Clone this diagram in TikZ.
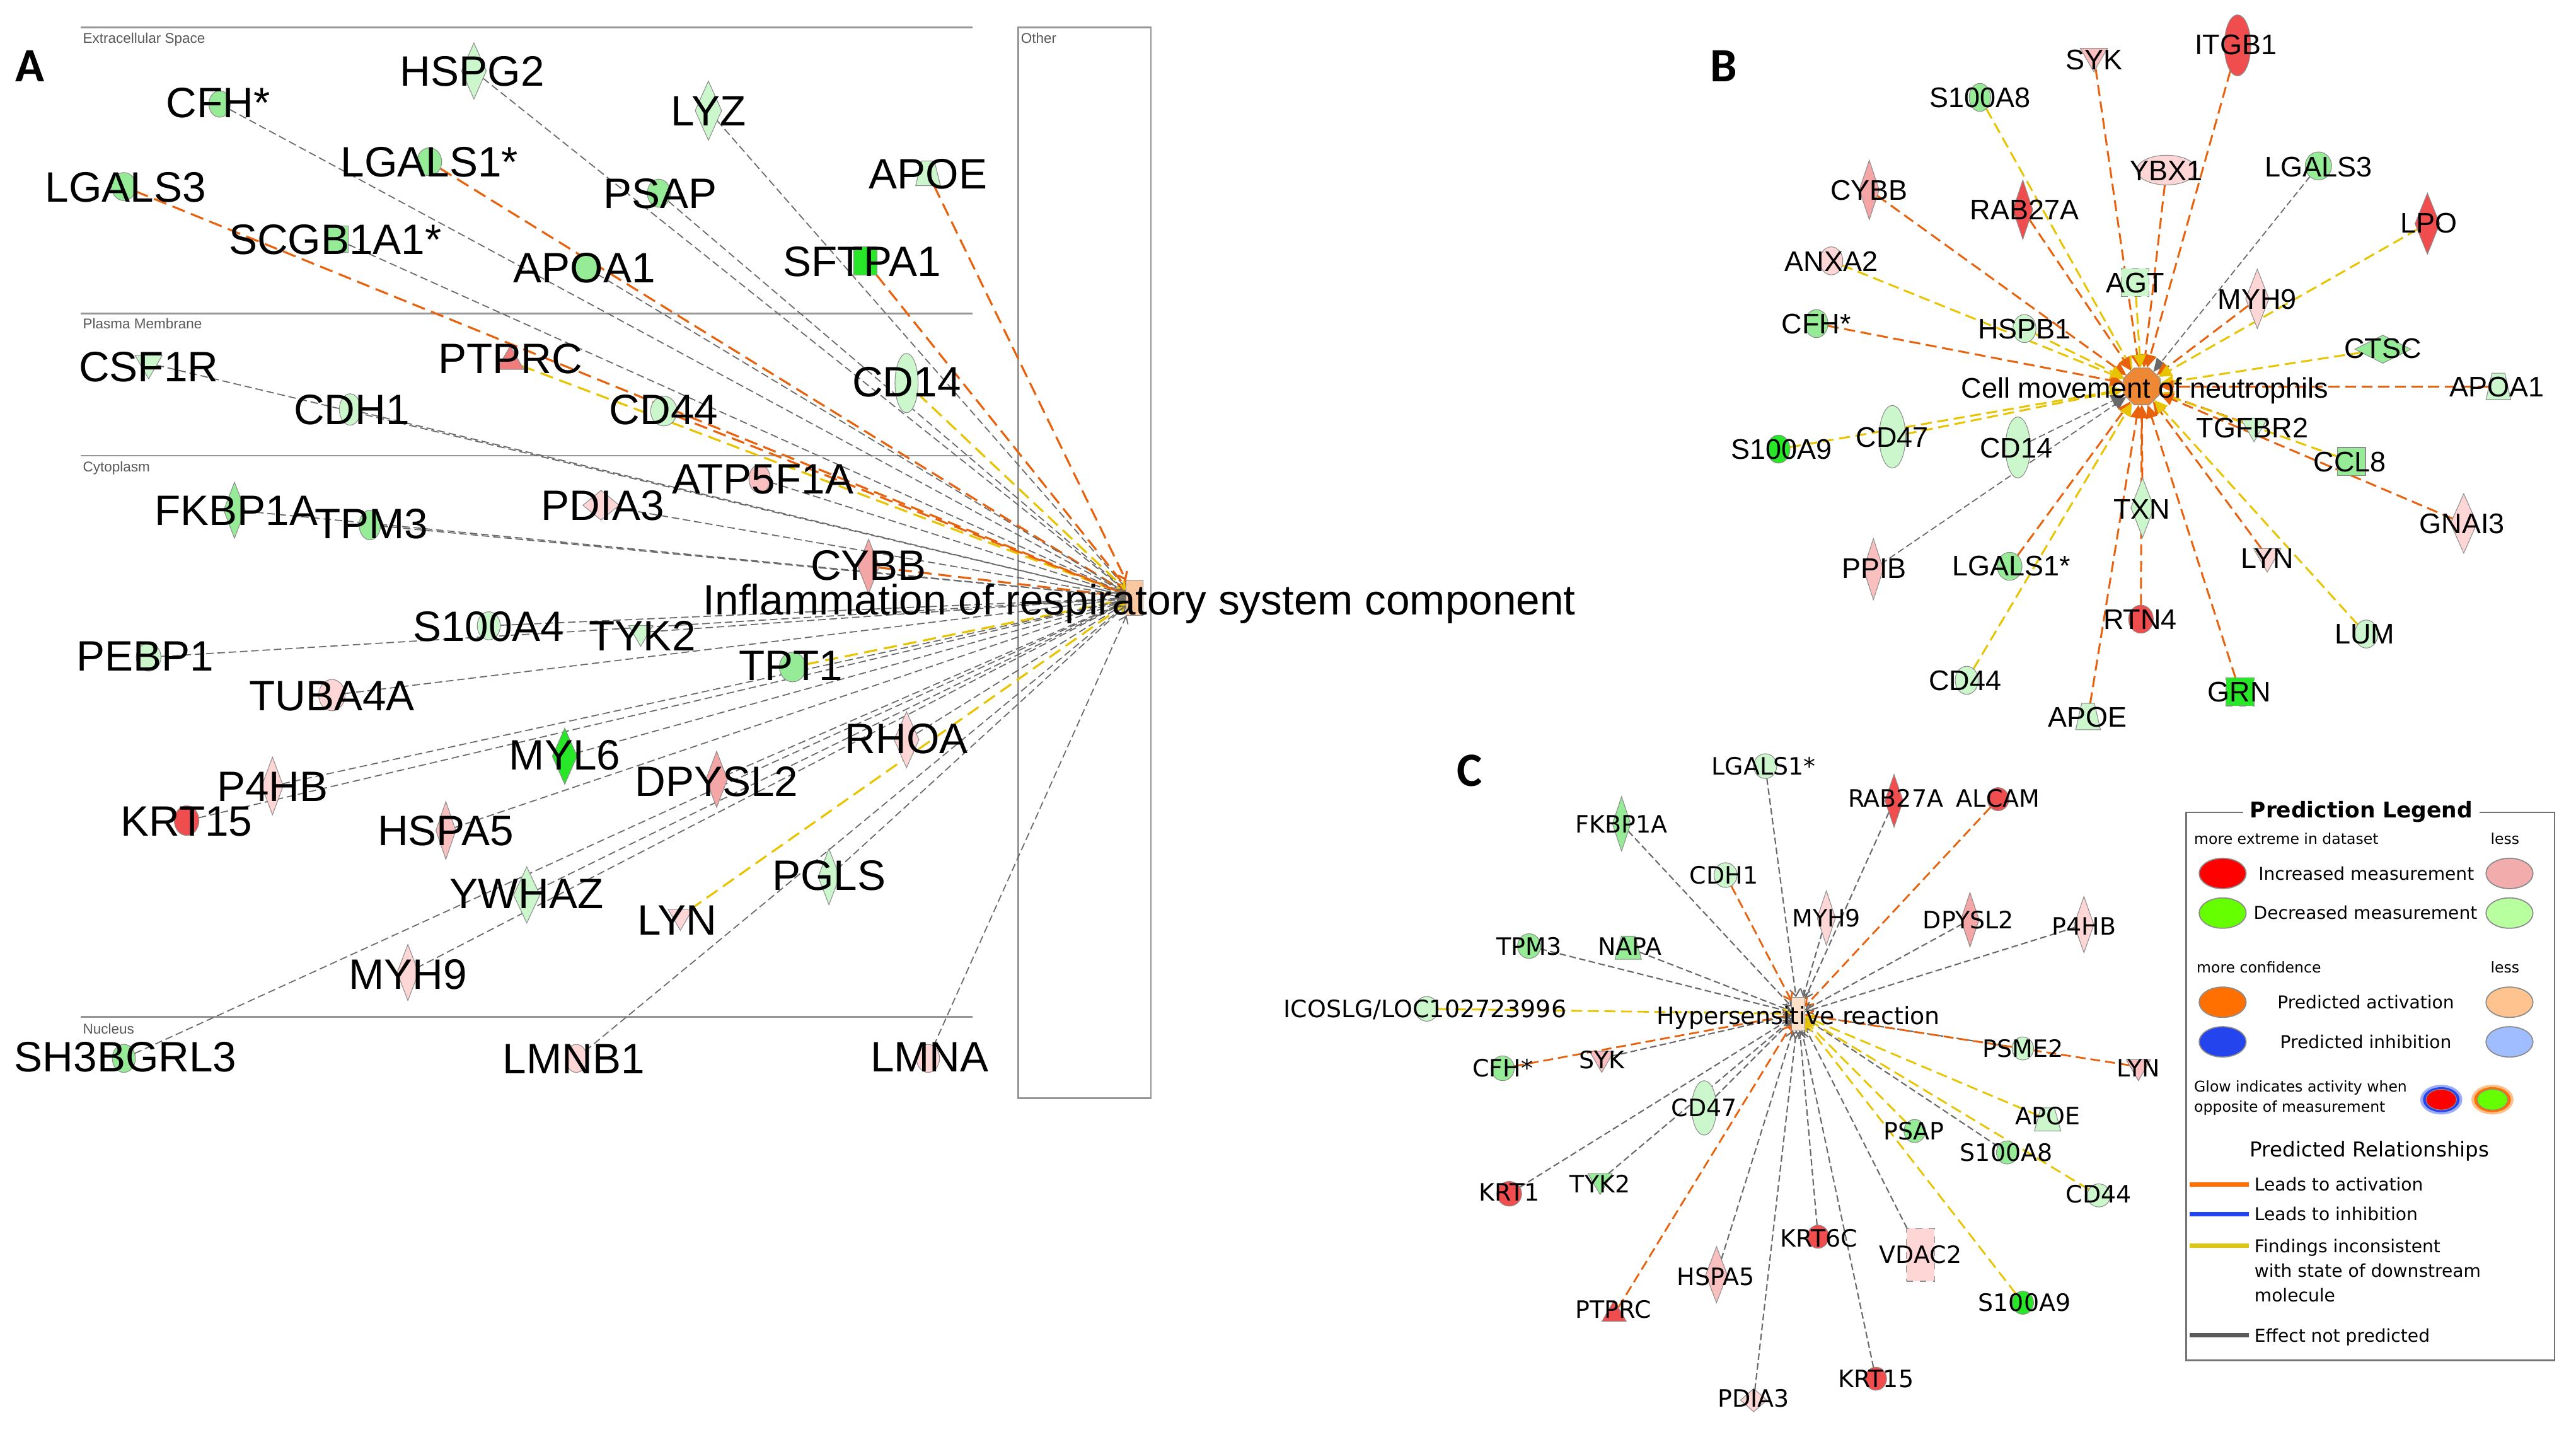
\documentclass[tikz,border=0pt]{standalone}
\usepackage{fontspec}
\setmainfont{Liberation Sans}
\newfontfamily\verd{DejaVu Sans}
\newfontfamily\calib{Carlito}
\usetikzlibrary{shapes.geometric, arrows.meta}
\pgfdeclarelayer{back}
\pgfdeclarelayer{edges}
\pgfsetlayers{back,edges,main}

\definecolor{lgreen}{RGB}{204,246,204}
\definecolor{mgreen}{RGB}{150,236,150}
\definecolor{bgreen}{RGB}{40,230,40}
\definecolor{lpink}{RGB}{255,214,214}
\definecolor{lpinkb}{RGB}{250,192,192}
\definecolor{mpink}{RGB}{244,165,165}
\definecolor{mred}{RGB}{240,125,125}
\definecolor{gred}{RGB}{240,78,78}
\definecolor{hubpeach}{RGB}{250,200,160}
\definecolor{hubora}{RGB}{238,136,52}
\definecolor{hubpale}{RGB}{252,224,200}
\definecolor{eora}{RGB}{232,98,14}
\definecolor{eyel}{RGB}{232,196,0}
\definecolor{egry}{RGB}{105,105,105}
\definecolor{outl}{RGB}{140,140,140}
\definecolor{cline}{RGB}{150,150,150}
\definecolor{lgred}{RGB}{255,0,0}
\definecolor{lgpink}{RGB}{242,172,172}
\definecolor{lggreen}{RGB}{102,255,0}
\definecolor{lglgreen}{RGB}{184,255,160}
\definecolor{lgora}{RGB}{255,112,0}
\definecolor{lgpeach}{RGB}{255,195,143}
\definecolor{lgblue}{RGB}{36,68,238}
\definecolor{lglblue}{RGB}{160,190,255}
\definecolor{lgyel}{RGB}{220,200,20}
\definecolor{lggray}{RGB}{90,90,90}

\begin{document}
\begin{tikzpicture}[x=0.0262cm, y=-0.0262cm,
    gene/.style = {draw=outl, line width=0.3pt, inner sep=0pt, outer sep=0pt},
    circ/.style 2 args = {gene, ellipse, minimum width=#1*0.745pt, minimum height=#2*0.745pt},
    dia/.style 2 args = {gene, diamond, minimum width=#1*0.745pt, minimum height=#2*0.745pt},
    box/.style 2 args = {gene, rectangle, minimum width=#1*0.745pt, minimum height=#2*0.745pt},
    trap/.style 2 args = {gene, trapezium, inner sep=1pt, trapezium stretches=true, trapezium left angle=65, trapezium right angle=65, minimum width=#1*0.745pt, minimum height=#2*0.745pt},
    tri/.style = {gene, regular polygon, regular polygon sides=3, minimum size=#1*0.745pt},
    vtri/.style = {tri=#1, shape border rotate=180},
    labA/.style = {font=\fontsize{19.2}{20}\selectfont, inner sep=0pt, text height=13.7pt, text depth=0pt},
    labB/.style = {font=\fontsize{12.8}{14}\selectfont, inner sep=0pt, text height=9.2pt, text depth=0pt},
    labC/.style = {font=\verd\fontsize{10.8}{12}\selectfont, inner sep=0pt, text height=7.9pt, text depth=0pt},
    letter/.style = {font=\calib\bfseries\fontsize{21.6}{22}\selectfont, inner sep=0pt, text height=13.9pt, text depth=0pt},
    comp/.style = {font=\fontsize{6.4}{7}\selectfont, text=black!65, inner sep=0pt, anchor=west, text height=4.6pt, text depth=0pt},
    cline/.style = {draw=cline, line width=0.8pt},
    arr/.style = {-{Straight Barb[length=3pt, width=4.5pt]}},
    ora/.style = {draw=eora, line width=0.9pt, dash pattern=on 6pt off 3pt, arr},
    yel/.style = {draw=eyel, line width=0.9pt, dash pattern=on 6pt off 3pt, arr},
    gry/.style = {draw=egry, line width=0.5pt, dash pattern=on 3.4pt off 1.7pt, arr},
    legs/.style = {font=\verd\fontsize{6.7}{9}\selectfont, inner sep=0pt, text height=4.9pt, text depth=0pt},
    legm/.style = {font=\verd\fontsize{8}{11}\selectfont, inner sep=0pt, text height=5.8pt, text depth=0pt},
    legell/.style = {ellipse, draw=outl, line width=0.5pt, minimum width=21.2pt, minimum height=13.7pt, inner sep=0pt}
  ]
  \useasboundingbox (0,0) rectangle (1560,865.7);
  \begin{pgfonlayer}{back}
    \fill[white] (0,0) rectangle (1560,865.7);
    % compartments of panel A
    \draw[cline] (49,16.5) -- (589,16.5);
    \draw[cline] (49,190) -- (589,190);
    \draw[cline] (49,276) -- (589,276);
    \draw[cline] (49,616) -- (589,616);
    \draw[cline] (616.5,16.5) rectangle (697,665);
  \end{pgfonlayer}
  \node[comp] (comp_ext) at (50,23) {Extracellular Space};
  \node[comp] (comp_pm) at (50,196) {Plasma Membrane};
  \node[comp] (comp_cyt) at (50,282.5) {Cytoplasm};
  \node[comp] (comp_nuc) at (50,623) {Nucleus};
  \node[comp] (comp_oth) at (618,23) {Other};

  \node[letter] (let_a) at (18,40) {A};
  \node[letter] (let_b) at (1044,40) {B};
  \node[letter] (let_c) at (890,467) {C};

  % panel A
  \node[gene, rectangle, minimum width=7.5pt, minimum height=16pt, fill=hubpeach] (a_hub) at (687,362) {};
  \node[dia={15}{34}, fill=lgreen] (a_hspg2) at (287,43) {};
  \node[circ={13}{16}, fill=mgreen] (a_cfh) at (133,63) {};
  \node[circ={15}{17}, fill=mgreen] (a_lgals1) at (260,98) {};
  \node[circ={15}{17}, fill=mgreen] (a_lgals3) at (75,113) {};
  \node[box={14}{16}, fill=mgreen] (a_scgb) at (204,145) {};
  \node[circ={15}{17}, fill=mgreen] (a_apoa1) at (355,162) {};
  \node[dia={16}{36}, fill=lgreen] (a_lyz) at (429,67) {};
  \node[circ={14}{17}, fill=mgreen] (a_psap) at (399,117) {};
  \node[trap={15}{15}, fill=lgreen] (a_apoe) at (562,105) {};
  \node[box={14}{17}, fill=bgreen] (a_sftpa1) at (524,158) {};
  \node[tri=19, fill=mred] (a_ptprc) at (309,219) {};
  \node[vtri=19, fill=lgreen] (a_csf1r) at (90,220) {};
  \node[circ={13}{19}, fill=lgreen] (a_cdh1) at (212,248) {};
  \node[circ={14}{36}, fill=lgreen] (a_cd14) at (549,232) {};
  \node[circ={16}{18}, fill=lgreen] (a_cd44) at (402,249) {};
  \node[circ={13}{17}, fill=lpinkb] (a_atp) at (460,290) {};
  \node[dia={22}{18}, fill=lpink] (a_pdia3) at (364,306) {};
  \node[dia={13}{33}, fill=mpink] (a_cybb) at (526,343) {};
  \node[dia={13}{34}, fill=mgreen] (a_fkbp) at (142,309) {};
  \node[circ={13}{18}, fill=mgreen] (a_tpm3) at (224,318) {};
  \node[circ={14}{17}, fill=lgreen] (a_s100a4) at (296,379) {};
  \node[circ={15}{17}, fill=lgreen] (a_pebp1) at (90,398) {};
  \node[circ={16}{19}, fill=lpink] (a_tuba) at (201,421) {};
  \node[vtri=17, fill=lgreen] (a_tyk2) at (388,383) {};
  \node[circ={16}{18}, fill=mgreen] (a_tpt1) at (480,404) {};
  \node[dia={15}{34}, fill=lpink] (a_rhoa) at (549,448) {};
  \node[dia={15}{34}, fill=bgreen] (a_myl6) at (342,458) {};
  \node[dia={13}{34}, fill=mpink] (a_dpysl2) at (434,472) {};
  \node[dia={13}{35}, fill=lpink] (a_p4hb) at (165,476) {};
  \node[circ={15}{18}, fill=gred] (a_krt15) at (113,497) {};
  \node[dia={12}{35}, fill=lpinkb] (a_hspa5) at (270,503) {};
  \node[dia={16}{34}, fill=lgreen] (a_ywhaz) at (319,542) {};
  \node[dia={13}{34}, fill=lpink] (a_myh9) at (247,589) {};
  \node[circ={14}{17}, fill=mgreen] (a_sh3) at (75,641) {};
  \node[circ={13}{17}, fill=lpink] (a_lmnb1) at (349,641) {};
  \node[vtri=17, fill=lpink] (a_lyn) at (412,555) {};
  \node[dia={13}{34}, fill=lgreen] (a_pgls) at (502,531) {};
  \node[circ={14}{17}, fill=lpink] (a_lmna) at (562,641) {};

  \node[labA] (a_hub_t) at (690,363) {Inflammation of respiratory system component};
  \node[labA] (a_hspg2_t) at (286,43) {HSPG2};
  \node[labA] (a_cfh_t) at (132,62) {CFH*};
  \node[labA] (a_lgals1_t) at (260,98) {LGALS1*};
  \node[labA] (a_lgals3_t) at (76,113) {LGALS3};
  \node[labA] (a_scgb_t) at (203,145) {SCGB1A1*};
  \node[labA] (a_apoa1_t) at (354,162) {APOA1};
  \node[labA] (a_lyz_t) at (429,67) {LYZ};
  \node[labA] (a_psap_t) at (400,117) {PSAP};
  \node[labA] (a_apoe_t) at (562,105) {APOE};
  \node[labA] (a_sftpa1_t) at (522,158) {SFTPA1};
  \node[labA] (a_ptprc_t) at (309,217) {PTPRC};
  \node[labA] (a_csf1r_t) at (90,222) {CSF1R};
  \node[labA] (a_cdh1_t) at (213,248) {CDH1};
  \node[labA] (a_cd14_t) at (549,231) {CD14};
  \node[labA] (a_cd44_t) at (402,248) {CD44};
  \node[labA] (a_atp_t) at (462,290) {ATP5F1A};
  \node[labA] (a_pdia3_t) at (365,306) {PDIA3};
  \node[labA] (a_cybb_t) at (526,342) {CYBB};
  \node[labA] (a_fkbp_t) at (143,309) {FKBP1A};
  \node[labA] (a_tpm3_t) at (225,317) {TPM3};
  \node[labA] (a_s100a4_t) at (296,379) {S100A4};
  \node[labA] (a_pebp1_t) at (88,397) {PEBP1};
  \node[labA] (a_tuba_t) at (201,421) {TUBA4A};
  \node[labA] (a_tyk2_t) at (389,385) {TYK2};
  \node[labA] (a_tpt1_t) at (479,403) {TPT1};
  \node[labA] (a_rhoa_t) at (549,447) {RHOA};
  \node[labA] (a_myl6_t) at (342,457) {MYL6};
  \node[labA] (a_dpysl2_t) at (434,473) {DPYSL2};
  \node[labA] (a_p4hb_t) at (165,476) {P4HB};
  \node[labA] (a_krt15_t) at (113,497) {KRT15};
  \node[labA] (a_hspa5_t) at (270,503) {HSPA5};
  \node[labA] (a_ywhaz_t) at (319,541) {YWHAZ};
  \node[labA] (a_myh9_t) at (247,590) {MYH9};
  \node[labA] (a_sh3_t) at (76,640) {SH3BGRL3};
  \node[labA] (a_lmnb1_t) at (347.5,641) {LMNB1};
  \node[labA] (a_lyn_t) at (410,557) {LYN};
  \node[labA] (a_pgls_t) at (502,530) {PGLS};
  \node[labA] (a_lmna_t) at (563,640) {LMNA};

  \begin{pgfonlayer}{edges}
    \draw[gry] (a_hspg2) -- (a_hub);
    \draw[gry] (a_cfh) -- (a_hub);
    \draw[ora] (a_lgals1) -- (a_hub);
    \draw[ora] (a_lgals3) -- (a_hub);
    \draw[gry] (a_scgb) -- (a_hub);
    \draw[gry] (a_apoa1) -- (a_hub);
    \draw[gry] (a_lyz) -- (a_hub);
    \draw[gry] (a_psap) -- (a_hub);
    \draw[ora] (a_apoe) -- (a_hub);
    \draw[ora] (a_sftpa1) -- (a_hub);
    \draw[yel] (a_ptprc) -- (a_hub);
    \draw[gry] (a_csf1r) -- (a_hub);
    \draw[gry] (a_cdh1) -- (a_hub);
    \draw[yel] (a_cd14) -- (a_hub);
    \draw[ora] (a_cd44) -- (a_hub);
    \draw[gry] (a_atp) -- (a_hub);
    \draw[gry] (a_pdia3) -- (a_hub);
    \draw[ora] (a_cybb) -- (a_hub);
    \draw[gry] (a_fkbp) -- (a_hub);
    \draw[gry] (a_tpm3) -- (a_hub);
    \draw[gry] (a_s100a4) -- (a_hub);
    \draw[gry] (a_pebp1) -- (a_hub);
    \draw[gry] (a_tuba) -- (a_hub);
    \draw[gry] (a_tyk2) -- (a_hub);
    \draw[yel] (a_tpt1) -- (a_hub);
    \draw[gry] (a_rhoa) -- (a_hub);
    \draw[gry] (a_myl6) -- (a_hub);
    \draw[gry] (a_dpysl2) -- (a_hub);
    \draw[gry] (a_p4hb) -- (a_hub);
    \draw[gry] (a_krt15) -- (a_hub);
    \draw[gry] (a_hspa5) -- (a_hub);
    \draw[gry] (a_ywhaz) -- (a_hub);
    \draw[gry] (a_myh9) -- (a_hub);
    \draw[gry] (a_sh3) -- (a_hub);
    \draw[gry] (a_lmnb1) -- (a_hub);
    \draw[yel] (a_lyn) -- (a_hub);
    \draw[gry] (a_pgls) -- (a_hub);
    \draw[gry] (a_lmna) -- (a_hub);
  \end{pgfonlayer}

  % panel B
  \node[gene, regular polygon, regular polygon sides=8, minimum size=18pt, fill=hubora] (b_hub) at (1297,234) {};
  \node[vtri=19, fill=lpinkb] (b_syk) at (1268,34) {};
  \node[circ={13}{17}, fill=mgreen] (b_s100a8) at (1199,59) {};
  \node[circ={16}{37}, fill=gred] (b_itgb1) at (1355,27.5) {};
  \node[dia={12}{36}, fill=mpink] (b_cybb) at (1132,115) {};
  \node[dia={12}{36}, fill=gred] (b_rab) at (1225,127) {};
  \node[circ={36}{18}, fill=lpink] (b_ybx1) at (1312,103) {};
  \node[circ={16}{17}, fill=mgreen] (b_lgals3) at (1404,100.5) {};
  \node[circ={14}{17}, fill=lpink] (b_anxa2) at (1109,158) {};
  \node[box={17}{17}, fill=lgreen, dashed] (b_agt) at (1293,171) {};
  \node[dia={14}{36}, fill=lpink] (b_myh9) at (1367,181) {};
  \node[dia={15}{37}, fill=gred] (b_lpo) at (1470,135.5) {};
  \node[circ={14}{17}, fill=mgreen] (b_cfh) at (1100,196) {};
  \node[circ={14}{17}, fill=lgreen] (b_hspb1) at (1226,199) {};
  \node[dia={34}{17}, fill=mgreen] (b_ctsc) at (1443,211.5) {};
  \node[trap={15}{16}, fill=lgreen] (b_apoa1) at (1513,234) {};
  \node[circ={14}{17}, fill=bgreen] (b_s100a9) at (1077,272) {};
  \node[circ={16}{38}, fill=lgreen] (b_cd47) at (1146,264.5) {};
  \node[circ={15}{37}, fill=lgreen] (b_cd14) at (1222,271) {};
  \node[vtri=19, fill=lgreen] (b_tgfbr2) at (1365,258) {};
  \node[box={17}{17}, fill=mgreen] (b_ccl8) at (1424,279.5) {};
  \node[dia={14}{36}, fill=lgreen] (b_txn) at (1297.5,307.5) {};
  \node[dia={16}{36}, fill=lpink] (b_gnai3) at (1492,317) {};
  \node[dia={12}{37}, fill=lpinkb] (b_ppib) at (1134.5,344.7) {};
  \node[circ={15}{17}, fill=mgreen] (b_lgals1) at (1217,343) {};
  \node[vtri=19, fill=lpink] (b_lyn) at (1373,337) {};
  \node[circ={15}{17}, fill=gred] (b_rtn4) at (1296.5,375) {};
  \node[circ={14}{17}, fill=lgreen] (b_lum) at (1433,384) {};
  \node[circ={14}{17}, fill=lgreen] (b_cd44) at (1191,412) {};
  \node[trap={15}{16}, fill=lgreen] (b_apoe) at (1264.5,434) {};
  \node[box={17}{17}, fill=bgreen, dashed] (b_grn) at (1356.5,419) {};

  \node[labB] (b_hub_t) at (1299,235) {Cell movement of neutrophils};
  \node[labB] (b_syk_t) at (1268,36) {SYK};
  \node[labB] (b_s100a8_t) at (1199,59) {S100A8};
  \node[labB] (b_itgb1_t) at (1354,27) {ITGB1};
  \node[labB] (b_cybb_t) at (1132,115) {CYBB};
  \node[labB] (b_rab_t) at (1226,127) {RAB27A};
  \node[labB] (b_ybx1_t) at (1312,103) {YBX1};
  \node[labB] (b_lgals3_t) at (1404,101) {LGALS3};
  \node[labB] (b_anxa2_t) at (1109,158) {ANXA2};
  \node[labB] (b_agt_t) at (1293,171) {AGT};
  \node[labB] (b_myh9_t) at (1367,181) {MYH9};
  \node[labB] (b_lpo_t) at (1471,135) {LPO};
  \node[labB] (b_cfh_t) at (1100,196) {CFH*};
  \node[labB] (b_hspb1_t) at (1226,199) {HSPB1};
  \node[labB] (b_ctsc_t) at (1443,211) {CTSC};
  \node[labB] (b_apoa1_t) at (1512,234) {APOA1};
  \node[labB] (b_s100a9_t) at (1079,272) {S100A9};
  \node[labB] (b_cd47_t) at (1146,264.5) {CD47};
  \node[labB] (b_cd14_t) at (1221,271) {CD14};
  \node[labB] (b_tgfbr2_t) at (1364,259) {TGFBR2};
  \node[labB] (b_ccl8_t) at (1423,279.5) {CCL8};
  \node[labB] (b_txn_t) at (1297,308) {TXN};
  \node[labB] (b_gnai3_t) at (1491,317) {GNAI3};
  \node[labB] (b_ppib_t) at (1135,344) {PPIB};
  \node[labB] (b_lgals1_t) at (1218,342.5) {LGALS1*};
  \node[labB] (b_lyn_t) at (1373,338) {LYN};
  \node[labB] (b_rtn4_t) at (1296,375) {RTN4};
  \node[labB] (b_lum_t) at (1432,383.6) {LUM};
  \node[labB] (b_cd44_t) at (1190,412) {CD44};
  \node[labB] (b_apoe_t) at (1264,434) {APOE};
  \node[labB] (b_grn_t) at (1356,419) {GRN};

  \begin{scope}[arr/.style={-{Triangle[length=6pt, width=5.5pt]}},
      ora/.style={draw=eora, line width=0.85pt, dash pattern=on 5pt off 2.5pt, arr},
      yel/.style={draw=eyel, line width=0.85pt, dash pattern=on 5pt off 2.5pt, arr},
      gry/.style={draw=egry, line width=0.5pt, dash pattern=on 3pt off 1.5pt, arr}]
    \begin{pgfonlayer}{edges}
      \draw[ora] (b_syk) -- (b_hub);
      \draw[yel] (b_s100a8) -- (b_hub);
      \draw[ora] (b_itgb1) -- (b_hub);
      \draw[ora] (b_cybb) -- (b_hub);
      \draw[ora] (b_rab) -- (b_hub);
      \draw[ora] (b_ybx1) -- (b_hub);
      \draw[gry] (b_lgals3) -- (b_hub);
      \draw[yel] (b_anxa2) -- (b_hub);
      \draw[yel] (b_agt) -- (b_hub);
      \draw[ora] (b_myh9) -- (b_hub);
      \draw[yel] (b_lpo) -- (b_hub);
      \draw[ora] (b_cfh) -- (b_hub);
      \draw[yel] (b_hspb1) -- (b_hub);
      \draw[yel] (b_ctsc) -- (b_hub);
      \draw[ora] (b_apoa1) -- (b_hub);
      \draw[yel] (b_s100a9) -- (b_hub);
      \draw[yel] (b_cd47) -- (b_hub);
      \draw[gry] (b_cd14) -- (b_hub);
      \draw[ora] (b_tgfbr2) -- (b_hub);
      \draw[yel] (b_ccl8) -- (b_hub);
      \draw[ora] (b_txn) -- (b_hub);
      \draw[ora] (b_gnai3) -- (b_hub);
      \draw[gry] (b_ppib) -- (b_hub);
      \draw[ora] (b_lgals1) -- (b_hub);
      \draw[ora] (b_lyn) -- (b_hub);
      \draw[ora] (b_rtn4) -- (b_hub);
      \draw[yel] (b_lum) -- (b_hub);
      \draw[yel] (b_cd44) -- (b_hub);
      \draw[ora] (b_apoe) -- (b_hub);
      \draw[ora] (b_grn) -- (b_hub);
    \end{pgfonlayer}
  \end{scope}

  % panel C
  \node[gene, rectangle, minimum width=6pt, minimum height=15pt, fill=hubpale] (c_hub) at (1089,614) {};
  \node[circ={14}{15}, fill=lgreen] (c_lgals1) at (1069,464) {};
  \node[dia={11}{33}, fill=mgreen] (c_fkbp) at (982,499) {};
  \node[circ={14}{15}, fill=lgreen] (c_cdh1) at (1045,530) {};
  \node[circ={14}{15}, fill=mgreen] (c_tpm3) at (926,573) {};
  \node[trap={16}{14}, fill=mgreen] (c_napa) at (986,574) {};
  \node[circ={14}{15}, fill=lgreen] (c_icos) at (864,611) {};
  \node[circ={14}{15}, fill=mgreen] (c_cfh) at (910,647) {};
  \node[vtri=17, fill=lpinkb] (c_syk) at (970,641) {};
  \node[circ={15}{33}, fill=lgreen] (c_cd47) at (1032,671) {};
  \node[circ={15}{15}, fill=gred] (c_krt1) at (914,723) {};
  \node[vtri=17, fill=mgreen] (c_tyk2) at (969,715) {};
  \node[dia={13}{34}, fill=lpinkb] (c_hspa5) at (1039.5,772) {};
  \node[tri=17, fill=gred] (c_ptprc) at (977.5,796) {};
  \node[dia={16}{14}, fill=lpink] (c_pdia3) at (1062,848) {};
  \node[dia={11}{32}, fill=gred] (c_rab) at (1147,485) {};
  \node[circ={13}{14}, fill=gred] (c_alcam) at (1210,484) {};
  \node[dia={11}{33}, fill=lpink] (c_myh9) at (1106,556) {};
  \node[dia={11}{33}, fill=mpink] (c_dpysl2) at (1193,557) {};
  \node[dia={12}{34}, fill=lpink] (c_p4hb) at (1262,560) {};
  \node[circ={13}{14}, fill=lgreen] (c_psme2) at (1225,635) {};
  \node[vtri=17, fill=lpinkb] (c_lyn) at (1295,646) {};
  \node[trap={16}{14}, fill=lgreen] (c_apoe) at (1240,678) {};
  \node[circ={13}{14}, fill=mgreen] (c_psap) at (1159.5,685) {};
  \node[circ={13}{14}, fill=mgreen] (c_s100a8) at (1215.5,698) {};
  \node[circ={14}{14}, fill=lgreen] (c_cd44) at (1271,724) {};
  \node[circ={13}{14}, fill=gred] (c_krt6c) at (1101,749) {};
  \node[box={17}{32}, fill=lpink, dashed] (c_vdac2) at (1163,760) {};
  \node[circ={13}{14}, fill=bgreen] (c_s100a9) at (1225,789) {};
  \node[circ={13}{14}, fill=gred] (c_krt15) at (1136,835) {};

  \node[labC] (c_hub_t) at (1089,615) {Hypersensitive reaction};
  \node[labC] (c_lgals1_t) at (1068,464) {LGALS1*};
  \node[labC] (c_fkbp_t) at (982,499) {FKBP1A};
  \node[labC] (c_cdh1_t) at (1044,530) {CDH1};
  \node[labC] (c_tpm3_t) at (926,573) {TPM3};
  \node[labC] (c_napa_t) at (987,573) {NAPA};
  \node[labC] (c_icos_t) at (863,611) {ICOSLG/LOC102723996};
  \node[labC] (c_cfh_t) at (910,647) {CFH*};
  \node[labC] (c_syk_t) at (970,642) {SYK};
  \node[labC] (c_cd47_t) at (1032,671) {CD47};
  \node[labC] (c_krt1_t) at (914,722) {KRT1};
  \node[labC] (c_tyk2_t) at (969,717) {TYK2};
  \node[labC] (c_hspa5_t) at (1039,773) {HSPA5};
  \node[labC] (c_ptprc_t) at (977,793) {PTPRC};
  \node[labC] (c_pdia3_t) at (1062,847) {PDIA3};
  \node[labC] (c_rab_t) at (1148,483.5) {RAB27A};
  \node[labC] (c_alcam_t) at (1210,483.5) {ALCAM};
  \node[labC] (c_myh9_t) at (1106,556) {MYH9};
  \node[labC] (c_dpysl2_t) at (1192,557) {DPYSL2};
  \node[labC] (c_p4hb_t) at (1262,561) {P4HB};
  \node[labC] (c_psme2_t) at (1225,635) {PSME2};
  \node[labC] (c_lyn_t) at (1295,647) {LYN};
  \node[labC] (c_apoe_t) at (1240,676) {APOE};
  \node[labC] (c_psap_t) at (1159,685) {PSAP};
  \node[labC] (c_s100a8_t) at (1215,698) {S100A8};
  \node[labC] (c_cd44_t) at (1271,723) {CD44};
  \node[labC] (c_krt6c_t) at (1101.5,750) {KRT6C};
  \node[labC] (c_vdac2_t) at (1163,760) {VDAC2};
  \node[labC] (c_s100a9_t) at (1226,789) {S100A9};
  \node[labC] (c_krt15_t) at (1136,835) {KRT15};

  \begin{scope}[ora/.style={draw=eora, line width=0.8pt, dash pattern=on 4.5pt off 2.2pt, arr},
      yel/.style={draw=eyel, line width=0.8pt, dash pattern=on 5pt off 2.5pt, arr},
      gry/.style={draw=egry, line width=0.6pt, dash pattern=on 3pt off 1.5pt, arr}]
    \begin{pgfonlayer}{edges}
      \draw[gry] (c_lgals1) -- (c_hub);
      \draw[gry] (c_fkbp) -- (c_hub);
      \draw[ora] (c_cdh1) -- (c_hub);
      \draw[gry] (c_tpm3) -- (c_hub);
      \draw[gry] (c_napa) -- (c_hub);
      \draw[yel] (c_icos) -- (c_hub);
      \draw[ora] (c_cfh) -- (c_hub);
      \draw[gry] (c_syk) -- (c_hub);
      \draw[gry] (c_cd47) -- (c_hub);
      \draw[gry] (c_krt1) -- (c_hub);
      \draw[gry] (c_tyk2) -- (c_hub);
      \draw[gry] (c_hspa5) -- (c_hub);
      \draw[ora] (c_ptprc) -- (c_hub);
      \draw[gry] (c_pdia3) -- (c_hub);
      \draw[gry] (c_rab) -- (c_hub);
      \draw[ora] (c_alcam) -- (c_hub);
      \draw[gry] (c_myh9) -- (c_hub);
      \draw[gry] (c_dpysl2) -- (c_hub);
      \draw[gry] (c_p4hb) -- (c_hub);
      \draw[gry] (c_psme2) -- (c_hub);
      \draw[ora] (c_lyn) -- (c_hub);
      \draw[yel] (c_apoe) -- (c_hub);
      \draw[yel] (c_psap) -- (c_hub);
      \draw[gry] (c_s100a8) -- (c_hub);
      \draw[yel] (c_cd44) -- (c_hub);
      \draw[gry] (c_krt6c) -- (c_hub);
      \draw[gry] (c_vdac2) -- (c_hub);
      \draw[yel] (c_s100a9) -- (c_hub);
      \draw[gry] (c_krt15) -- (c_hub);
    \end{pgfonlayer}
  \end{scope}

  % legend
  \draw[draw=black!55, line width=0.8pt] (1324,492) rectangle (1547,824);
  \node[font=\verd\bfseries\fontsize{9.8}{10}\selectfont, fill=white, inner xsep=3pt, inner ysep=1pt, text height=7.2pt, text depth=0pt] (leg_title) at (1430,490.5) {Prediction Legend};
  \node[legs, anchor=west] (leg_more) at (1328.5,508) {more extreme in dataset};
  \node[legs, anchor=west] (leg_less1) at (1508,508) {less};
  \node[legell, fill=lgred] (leg_red) at (1346,529) {};
  \node[legm] (leg_inc) at (1433,529) {Increased measurement};
  \node[legell, fill=lgpink] (leg_pink) at (1519.7,529) {};
  \node[legell, fill=lggreen] (leg_green) at (1346,553) {};
  \node[legm] (leg_dec) at (1432.5,553) {Decreased measurement};
  \node[legell, fill=lglgreen] (leg_lgreen) at (1519.7,553) {};
  \node[legs, anchor=west] (leg_conf) at (1330,586) {more confidence};
  \node[legs, anchor=west] (leg_less2) at (1508,586) {less};
  \node[legell, fill=lgora] (leg_ora) at (1346,607) {};
  \node[legm] (leg_act) at (1432.7,607) {Predicted activation};
  \node[legell, fill=lgpeach] (leg_peach) at (1519.7,607) {};
  \node[legell, fill=lgblue] (leg_blue) at (1346,631) {};
  \node[legm] (leg_inh) at (1432.7,631) {Predicted inhibition};
  \node[legell, fill=lglblue] (leg_lblue) at (1519.7,631) {};
  \node[font=\verd\fontsize{6.7}{9}\selectfont, inner sep=0pt, anchor=west, align=left] (leg_glow) at (1328.5,665) {Glow indicates activity when\\opposite of measurement};
  \node[ellipse, inner sep=0pt, minimum width=19pt, minimum height=13.4pt, fill=lgblue!45] (leg_g1o) at (1478.4,666) {};
  \node[ellipse, inner sep=0pt, minimum width=16.5pt, minimum height=11.3pt, fill=lgblue] (leg_g1m) at (1478.4,666) {};
  \node[ellipse, inner sep=0pt, minimum width=13.7pt, minimum height=9.3pt, fill=lgred, draw=outl, line width=0.3pt] (leg_g1) at (1478.4,666) {};
  \node[ellipse, inner sep=0pt, minimum width=19pt, minimum height=13.4pt, fill=lgora!45] (leg_g2o) at (1509.4,666) {};
  \node[ellipse, inner sep=0pt, minimum width=16.5pt, minimum height=11.3pt, fill=lgora] (leg_g2m) at (1509.4,666) {};
  \node[ellipse, inner sep=0pt, minimum width=13.7pt, minimum height=9.3pt, fill=lggreen, draw=outl, line width=0.3pt] (leg_g2) at (1509.4,666) {};
  \node[font=\verd\fontsize{9.25}{10}\selectfont, inner sep=0pt, text height=6.7pt, text depth=0pt] (leg_rel) at (1435,696) {Predicted Relationships};
  \draw[draw=lgora, line width=2pt] (1326,717.5) -- (1362,717.5);
  \node[legm, anchor=west] (leg_la) at (1365,717.5) {Leads to activation};
  \draw[draw=lgblue, line width=2pt] (1326,735.4) -- (1362,735.4);
  \node[legm, anchor=west] (leg_li) at (1365,735.4) {Leads to inhibition};
  \draw[draw=lgyel, line width=2pt] (1326,754.6) -- (1362,754.6);
  \node[legm, anchor=west] (leg_fi1) at (1365,754.6) {Findings inconsistent};
  \node[legm, anchor=west] (leg_fi2) at (1365,769.5) {with state of downstream};
  \node[legm, anchor=west] (leg_fi3) at (1365,784.5) {molecule};
  \draw[draw=lggray, line width=2pt] (1326,808.8) -- (1362,808.8);
  \node[legm, anchor=west] (leg_np) at (1365,808.8) {Effect not predicted};
\end{tikzpicture}
\end{document}
